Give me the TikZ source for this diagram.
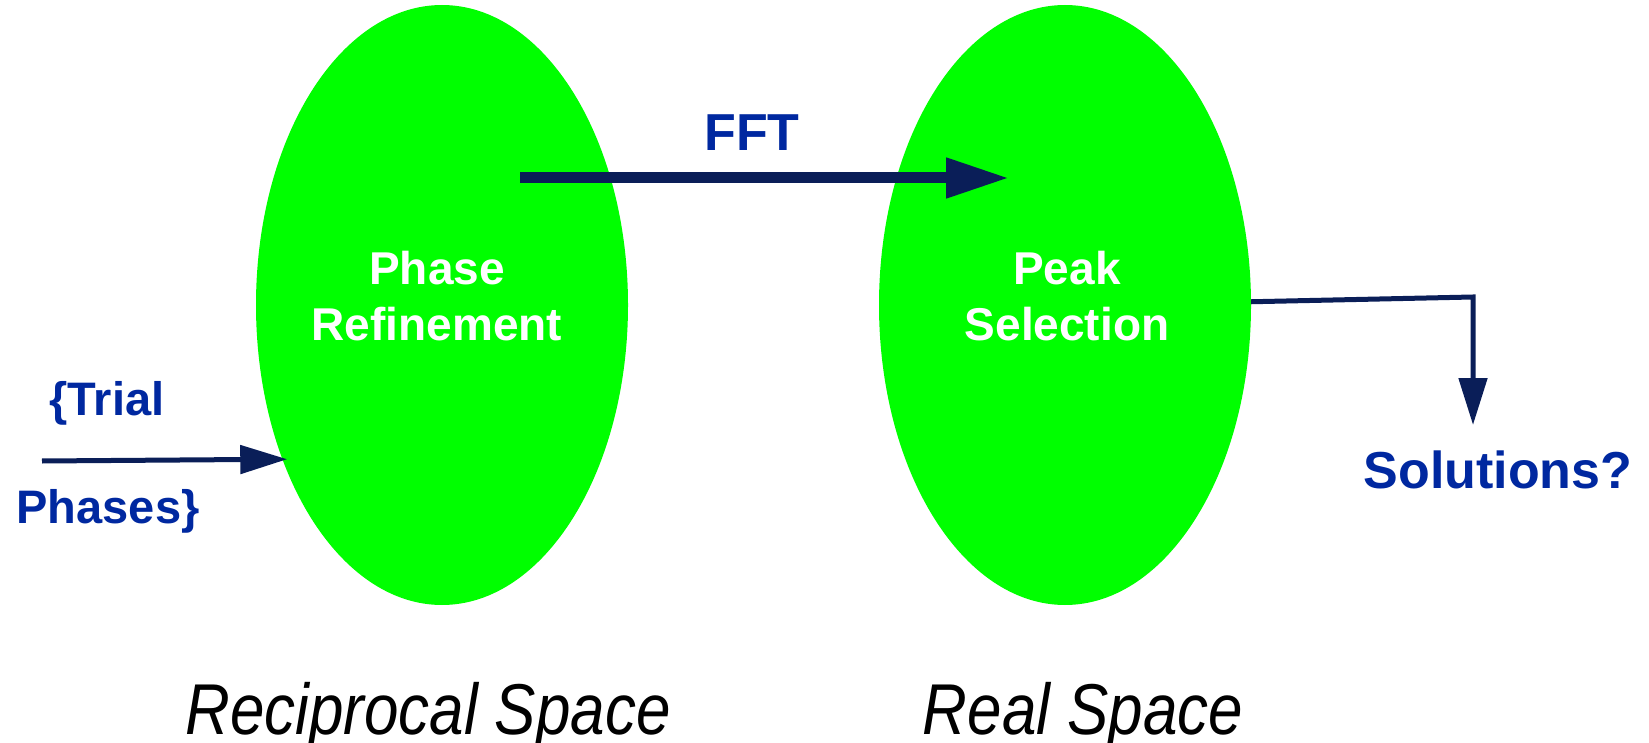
\documentclass[tikz,border=0pt]{standalone}
\usepackage{fontspec}
\setmainfont{Liberation Sans}
\newfontfamily\spacefont[FakeStretch=0.86]{Liberation Sans}
\usetikzlibrary{arrows.meta,shapes.geometric}
\definecolor{blobgreen}{RGB}{0,255,0}
\definecolor{labelblue}{RGB}{0,40,160}
\definecolor{arrownavy}{RGB}{10,30,88}
\tikzset{
  spaceblob/.style={ellipse,fill=blobgreen,minimum width=372pt,minimum height=600pt,inner sep=0pt},
  blobtext/.style={text=white,font=\fontsize{46}{55}\selectfont\bfseries,align=center,inner sep=0pt,anchor=base},
  flowlabel/.style={text=labelblue,font=\fontsize{47}{56}\selectfont\bfseries,inner sep=0pt,anchor=base},
  spacelabel/.style={font=\spacefont\itshape\fontsize{72}{86}\selectfont,inner sep=0pt,anchor=base},
  fftarrow/.style={-{Triangle[length=63pt,width=38pt]},draw=arrownavy,line width=11pt},
  thinarrow/.style={-{Triangle[length=47pt,width=28pt]},draw=arrownavy,line width=5pt}
}
\begin{document}
\begin{tikzpicture}[x=1pt,y=-1pt]
  \useasboundingbox (0,0) rectangle (1649,743);
  \node[spaceblob] (recip) at (442,305) {};
  \node[spaceblob] (real) at (1065,305) {};
  % base anchor sits on the second line
  \node[blobtext] (recipname) at (437,340) {Phase\\Refinement};
  \node[blobtext] (realname) at (1067,340) {Peak\\Selection};
  \node[flowlabel,font=\fontsize{52}{62}\selectfont\bfseries] (fftname) at (752,151) {FFT};
  \node[flowlabel] (trialtop) at (107,415) {\{Trial};
  \node[flowlabel] (trialbottom) at (108,523) {Phases\}};
  \node[flowlabel,font=\fontsize{52}{62}\selectfont\bfseries] (solutions) at (1498,488) {Solutions?};
  \node[spacelabel] (recipspace) at (428,734) {Reciprocal Space};
  \node[spacelabel] (realspace) at (1083,734) {Real Space};
  \coordinate (fftstart) at (520,178);
  \coordinate (fftend) at (1009,178);
  \coordinate (trialstart) at (42,461);
  \coordinate (solbend) at (1473,297);
  \coordinate (solend) at (1473,425);
  \draw[fftarrow] (fftstart) -- (fftend);
  \draw[thinarrow,shorten >=-5pt] (trialstart) -- (recip.224);
  \draw[thinarrow] (real.1) -- (solbend) -- (solend);
\end{tikzpicture}
\end{document}
